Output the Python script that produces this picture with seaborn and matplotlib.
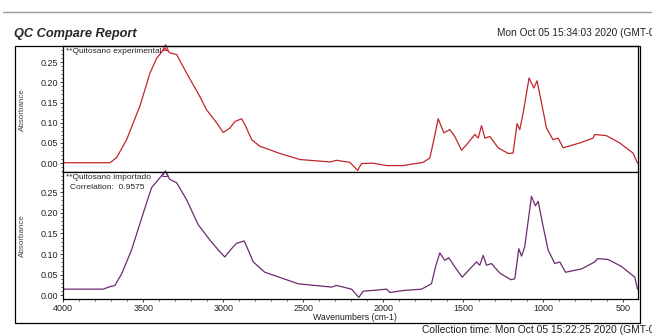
import numpy as np
import pandas as pd
import matplotlib
matplotlib.use('Agg')
import matplotlib.pyplot as plt
import seaborn as sns
from matplotlib.patches import Rectangle
from matplotlib.lines import Line2D
from matplotlib.ticker import MultipleLocator

# espectro experimental (cm-1, absorbancia)
top_wn = [4000, 3708, 3666, 3604, 3521, 3458, 3416, 3364, 3333, 3291, 3229, 3146,
          3104, 3041, 3000, 2958, 2927, 2885, 2864, 2822, 2771, 2646, 2521, 2333,
          2291, 2208, 2160, 2135, 2063, 1979, 1875, 1750, 1708, 1683, 1656, 1621,
          1583, 1552, 1510, 1469, 1427, 1406, 1385, 1364, 1333, 1281, 1219, 1188,
          1163, 1146, 1125, 1088, 1058, 1038, 1010, 979, 938, 906, 875, 771, 688,
          677, 604, 521, 438, 410]
top_abs = [0.001, 0.001, 0.014, 0.058, 0.141, 0.223, 0.260, 0.285, 0.273, 0.269,
           0.223, 0.165, 0.132, 0.100, 0.076, 0.087, 0.103, 0.110, 0.095, 0.058,
           0.042, 0.024, 0.009, 0.003, 0.007, 0.002, -0.018, -0.001, 0.000, -0.006,
           -0.006, 0.002, 0.013, 0.058, 0.110, 0.075, 0.083, 0.066, 0.032, 0.050,
           0.071, 0.062, 0.093, 0.062, 0.066, 0.038, 0.024, 0.025, 0.098, 0.083,
           0.124, 0.211, 0.186, 0.204, 0.149, 0.087, 0.058, 0.062, 0.038, 0.050,
           0.062, 0.071, 0.068, 0.050, 0.025, 0.000]

# espectro importado
bot_wn = [4000, 3750, 3708, 3677, 3635, 3573, 3500, 3448, 3396, 3364, 3333, 3291,
          3229, 3156, 3083, 3031, 2990, 2948, 2917, 2869, 2844, 2812, 2740, 2531,
          2323, 2292, 2198, 2152, 2125, 2031, 1979, 1958, 1865, 1760, 1698, 1673,
          1646, 1615, 1590, 1552, 1506, 1458, 1417, 1396, 1375, 1354, 1323, 1271,
          1202, 1177, 1152, 1135, 1115, 1073, 1048, 1031, 1000, 969, 927, 896, 860,
          760, 677, 660, 594, 510, 427, 410]
bot_abs = [0.015, 0.015, 0.021, 0.024, 0.052, 0.110, 0.199, 0.261, 0.285, 0.301,
           0.281, 0.273, 0.232, 0.171, 0.134, 0.110, 0.093, 0.113, 0.126, 0.132,
           0.110, 0.081, 0.056, 0.028, 0.020, 0.024, 0.015, -0.005, 0.010, 0.013,
           0.015, 0.007, 0.012, 0.015, 0.028, 0.069, 0.103, 0.085, 0.091, 0.069,
           0.044, 0.064, 0.081, 0.073, 0.097, 0.073, 0.077, 0.054, 0.038, 0.040,
           0.113, 0.095, 0.118, 0.240, 0.217, 0.228, 0.167, 0.110, 0.077, 0.081,
           0.056, 0.064, 0.081, 0.089, 0.087, 0.070, 0.044, 0.015]

df_top = pd.DataFrame({'wn': top_wn, 'abs': top_abs})
df_bot = pd.DataFrame({'wn': bot_wn, 'abs': bot_abs})

sns.set_style('ticks')
plt.rcParams['font.family'] = ['Liberation Sans', 'DejaVu Sans']

fig = plt.figure(figsize=(6.52, 3.36), dpi=100)

# linha cinza do cabecalho e moldura externa
fig.add_artist(Line2D([0.005, 1.0], [0.964, 0.964], color='#9a9a9a', lw=1.0))
fig.add_artist(Rectangle((0.023, 0.039), 0.959, 0.824, fill=False,
                         edgecolor='black', lw=0.9, transform=fig.transFigure))

fig.text(0.022, 0.900, 'QC Compare Report', fontsize=9.2, fontweight='bold',
         fontstyle='italic', va='center')
fig.text(0.762, 0.902, 'Mon Oct 05 15:34:03 2020 (GMT-03:00)', fontsize=7.3,
         va='center', color='#222222')
fig.text(0.647, 0.017, 'Collection time: Mon Oct 05 15:22:25 2020 (GMT-03:00)',
         fontsize=7.4, va='center', color='#222222')

ax1 = fig.add_axes([0.097, 0.488, 0.882, 0.375])
ax2 = fig.add_axes([0.097, 0.110, 0.882, 0.378])

sns.lineplot(data=df_top, x='wn', y='abs', ax=ax1, color='#c0262b', lw=0.9,
             estimator=None, sort=False)
sns.lineplot(data=df_bot, x='wn', y='abs', ax=ax2, color='#6b2c6e', lw=0.9,
             estimator=None, sort=False)

# marcador do pico
i1 = int(np.argmax(top_abs))
i2 = int(np.argmax(bot_abs))
ax1.plot(top_wn[i1], 0.287, marker='^', ms=5, mfc='none', mec='#c0262b', mew=0.7,
         clip_on=False)
ax2.plot(bot_wn[i2], 0.297, marker='^', ms=5, mfc='none', mec='#6b2c6e', mew=0.7,
         clip_on=False)

ax1.set_ylim(-0.022, 0.290)
ax2.set_ylim(-0.009, 0.299)

for ax in (ax1, ax2):
    ax.set_xlim(4000, 405)
    ax.set_xlabel('')
    ax.set_ylabel('')
    ax.yaxis.set_major_locator(MultipleLocator(0.05))
    ax.yaxis.set_minor_locator(MultipleLocator(0.01))
    ax.xaxis.set_major_locator(MultipleLocator(500))
    ax.xaxis.set_minor_locator(MultipleLocator(100))
    ax.yaxis.set_major_formatter(matplotlib.ticker.FormatStrFormatter('%.2f'))
    ax.tick_params(which='major', direction='out', length=2.5, width=0.6,
                   labelsize=6.5, pad=1.0, colors='#222222')
    ax.tick_params(which='minor', direction='out', length=1.5, width=0.5)
    for s in ax.spines.values():
        s.set_linewidth(0.9)
        s.set_color('black')

ax1.tick_params(axis='x', which='both', bottom=False, labelbottom=False)

ax1.text(0.004, 0.985, '**Quitosano experimental', transform=ax1.transAxes,
         fontsize=6, va='top', ha='left')
ax2.text(0.004, 0.985, '**Quitosano importado', transform=ax2.transAxes,
         fontsize=6, va='top', ha='left')
ax2.text(0.012, 0.905, 'Correlation:  0.9575', transform=ax2.transAxes,
         fontsize=6, va='top', ha='left')

fig.text(0.034, 0.675, 'Absorbance', rotation=90, fontsize=5.8, va='center',
         ha='center', color='#444444')
fig.text(0.034, 0.300, 'Absorbance', rotation=90, fontsize=5.8, va='center',
         ha='center', color='#444444')
fig.text(0.545, 0.056, 'Wavenumbers (cm-1)', fontsize=6.3, va='center',
         ha='center', color='#222222')

fig.savefig('out.png', dpi=100)
